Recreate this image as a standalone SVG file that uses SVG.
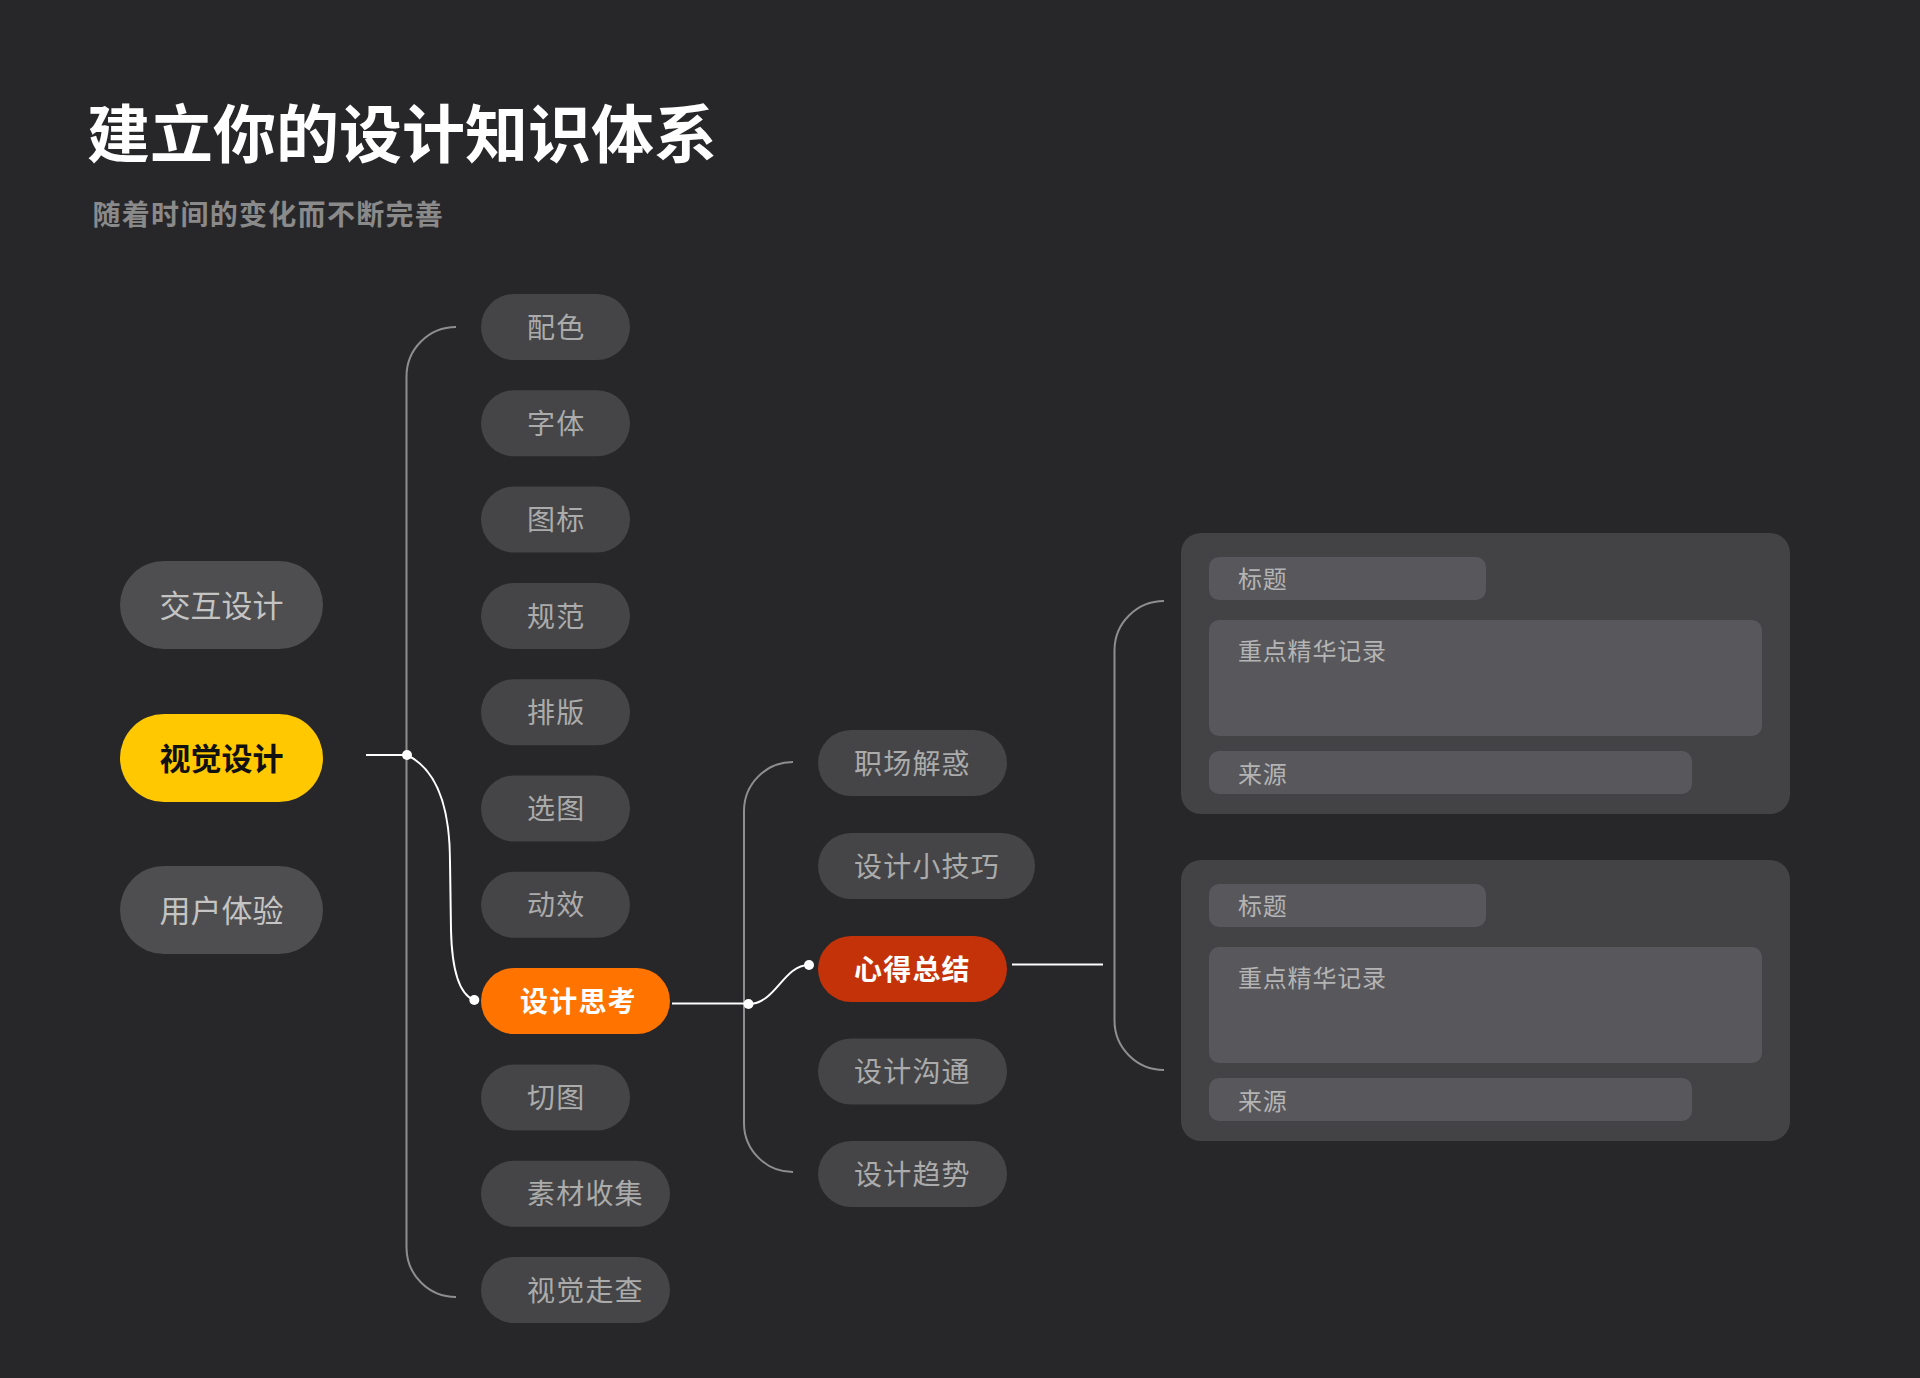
<svg xmlns="http://www.w3.org/2000/svg" width="1920" height="1378" viewBox="0 0 1920 1378">
<style>
text{font-family:"Noto Sans CJK SC","Noto Sans",sans-serif}
.bg{fill:#27272a}
.lp{fill:#4e4e50}
.lt{fill:#c4c4c4;font-size:31px;text-anchor:middle}
.mp{fill:#454547}
.mt{fill:#ababab;font-size:28px;letter-spacing:1.2px}
.card{fill:#434346}
.box{fill:#58585c}
.bt{fill:#b4b4b4;font-size:24px;letter-spacing:0.8px}
.gl{fill:none;stroke:#8e8e8e;stroke-width:2}
.wl{fill:none;stroke:#ffffff;stroke-width:2}
.dot{fill:#ffffff}
</style>
<rect class="bg" x="0" y="0" width="1920" height="1378"/>
<g id="title">
<text x="87" y="157" font-size="63" font-weight="700" fill="#ffffff">建立你的设计知识体系</text>
<text x="92.5" y="224.5" font-size="28" font-weight="700" letter-spacing="1.3" fill="#8a8a8a">随着时间的变化而不断完善</text>
</g>
<g id="connectors">
<path class="gl" d="M456,327 A49.5,49.5 0 0 0 406.5,376.5 L406.5,1247.5 A49.5,49.5 0 0 0 456,1297"/>
<path class="gl" d="M793,762 A49,49 0 0 0 744,811 L744,1123 A49,49 0 0 0 793,1172"/>
<path class="gl" d="M1164,601 A49.5,49.5 0 0 0 1114.5,650.5 L1114.5,1020.5 A49.5,49.5 0 0 0 1164,1070"/>
<line class="wl" x1="366" y1="755" x2="407" y2="755"/>
<path class="wl" d="M407,755 C438,770 450,808 450,862 L451,930 C452,974 461,995 474,1000"/>
<line class="wl" x1="672" y1="1003.5" x2="748.5" y2="1003.5"/>
<path class="wl" d="M748.5,1004 C776,1004 783,965 809,965"/>
<line class="wl" x1="1012" y1="964.5" x2="1103" y2="964.5"/>
<circle class="dot" cx="407" cy="755" r="5"/>
<circle class="dot" cx="474.3" cy="1000" r="5"/>
<circle class="dot" cx="748.5" cy="1004" r="5"/>
<circle class="dot" cx="809" cy="965" r="5"/>
</g>
<g id="n-jiaohu"><rect class="lp" x="120" y="561" width="203" height="88" rx="44"/><text class="lt" x="221.5" y="617">交互设计</text></g>
<g id="n-shijue"><rect x="120" y="714" width="203" height="88" rx="44" fill="#ffc800"/><text class="lt" x="221.5" y="769.5" font-weight="700" style="fill:#111111">视觉设计</text></g>
<g id="n-yonghu"><rect class="lp" x="120" y="866" width="203" height="88" rx="44"/><text class="lt" x="221.5" y="922">用户体验</text></g>
<g id="n-peise"><rect class="mp" x="481" y="294" width="149" height="66" rx="33"/><text class="mt" x="527" y="337.6">配色</text></g>
<g id="n-ziti"><rect class="mp" x="481" y="390.3" width="149" height="66" rx="33"/><text class="mt" x="527" y="433.9">字体</text></g>
<g id="n-tubiao"><rect class="mp" x="481" y="486.6" width="149" height="66" rx="33"/><text class="mt" x="527" y="530.2">图标</text></g>
<g id="n-guifan"><rect class="mp" x="481" y="582.9" width="149" height="66" rx="33"/><text class="mt" x="527" y="626.5">规范</text></g>
<g id="n-paiban"><rect class="mp" x="481" y="679.2" width="149" height="66" rx="33"/><text class="mt" x="527" y="722.8">排版</text></g>
<g id="n-xuantu"><rect class="mp" x="481" y="775.5" width="149" height="66" rx="33"/><text class="mt" x="527" y="819.1">选图</text></g>
<g id="n-dongxiao"><rect class="mp" x="481" y="871.8" width="149" height="66" rx="33"/><text class="mt" x="527" y="915.4">动效</text></g>
<g id="n-sheji-sikao"><rect x="481" y="968" width="189" height="66" rx="33" fill="#ff7300"/><text class="mt" x="520" y="1011.6" font-weight="700" style="fill:#ffffff">设计思考</text></g>
<g id="n-qietu"><rect class="mp" x="481" y="1064.4" width="149" height="66" rx="33"/><text class="mt" x="527" y="1108">切图</text></g>
<g id="n-sucai"><rect class="mp" x="481" y="1160.7" width="189" height="66" rx="33"/><text class="mt" x="527" y="1204.3">素材收集</text></g>
<g id="n-zoucha"><rect class="mp" x="481" y="1257" width="189" height="66" rx="33"/><text class="mt" x="527" y="1300.6">视觉走查</text></g>
<g id="n-zhichang"><rect class="mp" x="818" y="730" width="189" height="66" rx="33"/><text class="mt" x="854" y="773.6">职场解惑</text></g>
<g id="n-jiqiao"><rect class="mp" x="818" y="833" width="217" height="66" rx="33"/><text class="mt" x="854" y="876.6">设计小技巧</text></g>
<g id="n-xinde"><rect x="818" y="936" width="189" height="66" rx="33" fill="#c4320a"/><text class="mt" x="854" y="979.6" font-weight="700" style="fill:#ffffff">心得总结</text></g>
<g id="n-goutong"><rect class="mp" x="818" y="1038.5" width="189" height="66" rx="33"/><text class="mt" x="854" y="1082.1">设计沟通</text></g>
<g id="n-qushi"><rect class="mp" x="818" y="1141" width="189" height="66" rx="33"/><text class="mt" x="854" y="1184.6">设计趋势</text></g>
<g id="card-1">
<rect class="card" x="1181" y="533" width="609" height="281" rx="20"/>
<rect class="box" x="1209" y="557" width="277" height="43" rx="10"/>
<text class="bt" x="1238" y="587.6">标题</text>
<rect class="box" x="1209" y="620" width="553" height="116" rx="10"/>
<text class="bt" x="1238" y="660">重点精华记录</text>
<rect class="box" x="1209" y="751" width="483" height="43" rx="10"/>
<text class="bt" x="1238" y="782.6">来源</text>
</g>
<g id="card-2">
<rect class="card" x="1181" y="860" width="609" height="281" rx="20"/>
<rect class="box" x="1209" y="884" width="277" height="43" rx="10"/>
<text class="bt" x="1238" y="914.6">标题</text>
<rect class="box" x="1209" y="947" width="553" height="116" rx="10"/>
<text class="bt" x="1238" y="987">重点精华记录</text>
<rect class="box" x="1209" y="1078" width="483" height="43" rx="10"/>
<text class="bt" x="1238" y="1109.6">来源</text>
</g>
</svg>
